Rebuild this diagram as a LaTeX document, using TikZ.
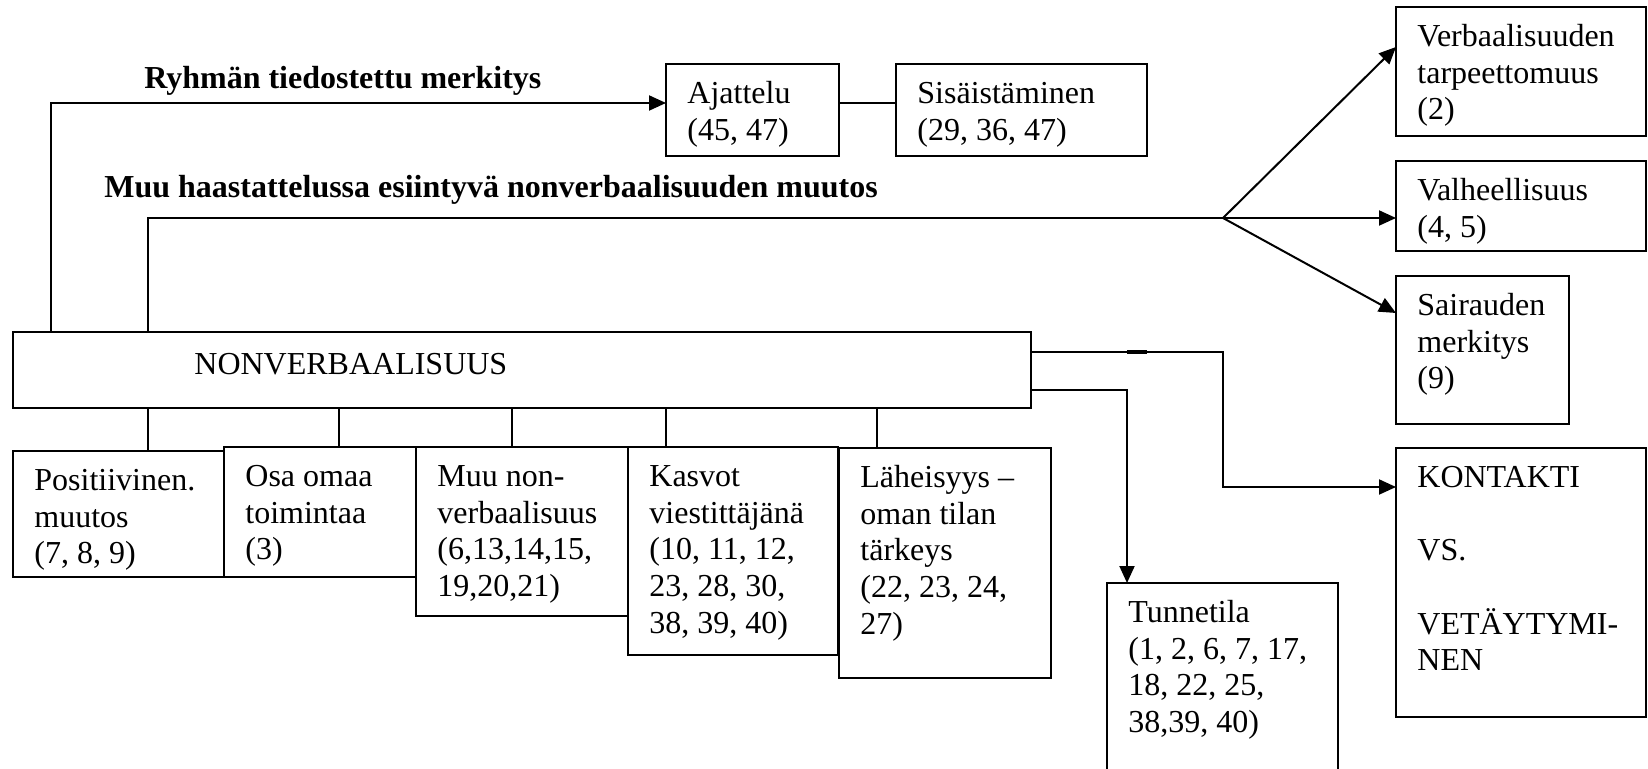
\documentclass[tikz,border=0pt]{standalone}
\usepackage{fontspec}
\setmainfont{Liberation Serif}
\usetikzlibrary{arrows.meta,calc}

\tikzset{
  frame/.style={draw, line width=1.2pt, inner sep=0pt, outer sep=0pt, anchor=north west},
  txt/.style={anchor=base west, inner sep=0pt, align=left, font=\fontsize{16pt}{18.35pt}\selectfont},
  blocktxt/.style={txt, anchor=north west},
  head/.style={txt, font=\fontsize{16pt}{18.35pt}\selectfont\bfseries},
  link/.style={line width=1pt},
  arr/.style={link, -{Triangle[length=8.5pt,width=7.5pt]}},
}

% box with its label: first baseline 39 units below the top edge, 21 units in;
% the 14pt strut fixes the top of the first line, 28 units above its baseline
\newcommand\mybox[6]{%
  \node[frame, minimum width={(#4-#2)*0.5pt}, minimum height={(#5-#3)*0.5pt}] (#1) at (#2,#3) {};
  \node[blocktxt] (#1-text) at (#2+21,#3+11) {\rule{0pt}{14pt}#6};
}

\begin{document}
\begin{tikzpicture}[x=0.5pt, y=-0.5pt]
\useasboundingbox (0,0) rectangle (1648,769);
\clip (0,0) rectangle (1648,769);

% headings
\node[head] (ryhma) at (144,89) {Ryhmän tiedostettu merkitys};
\node[head] (muutos) at (104,198) {Muu haastattelussa esiintyvä nonverbaalisuuden muutos};

% main box
\node[frame, minimum width={(1031-13)*0.5pt}, minimum height={(408-332)*0.5pt}] (nonv) at (13,332) {};
\node[txt] (nonv-text) at (194,375) {NONVERBAALISUUS};

% upper boxes
\mybox{ajattelu}{666}{64}{839}{156}{Ajattelu\\(45, 47)}
\mybox{sisa}{896}{64}{1147}{156}{Sisäistäminen\\(29, 36, 47)}

% right column
\mybox{verb}{1396}{7}{1646}{136}{Verbaalisuuden\\tarpeettomuus\\(2)}
\mybox{valhe}{1396}{161}{1646}{251}{Valheellisuus\\(4, 5)}
\mybox{sairaus}{1396}{276}{1569}{424}{Sairauden\\merkitys\\(9)}
\mybox{kontakti}{1396}{448}{1646}{717}{KONTAKTI\\[18.35pt]VS.\\[18.35pt]VETÄYTYMI-\\NEN}
\mybox{tunne}{1107}{583}{1338}{800}{Tunnetila\\(1, 2, 6, 7, 17,\\18, 22, 25,\\38,39, 40)}

% lower row
\mybox{posit}{13}{451}{224}{577}{Positiivinen.\\muutos\\(7, 8, 9)}
\mybox{osa}{224}{447}{416}{577}{Osa omaa\\toimintaa\\(3)}
\mybox{muunon}{416}{447}{628}{616}{Muu non-\\verbaalisuus\\(6,13,14,15,\\19,20,21)}
\mybox{kasvot}{628}{447}{838}{655}{Kasvot\\viestittäjänä\\(10, 11, 12,\\23, 28, 30,\\38, 39, 40)}
\mybox{laheis}{839}{448}{1051}{678}{Läheisyys –\\oman tilan\\tärkeys\\(22, 23, 24,\\27)}

% connectors
\coordinate (up1) at (51,103);
\draw[arr] (nonv.north -| up1) -- (up1) -- (ajattelu.west |- up1);
\draw[link] (ajattelu.east |- up1) -- (sisa.west |- up1);

\coordinate (up2) at (148,218);
\coordinate (fork) at (1223,218);
\draw[link] (nonv.north -| up2) -- (up2) -- (fork);
\draw[arr] (fork) -- ($(verb.north west)+(0,40)$);
\draw[arr] (fork) -- (valhe.west |- fork);
\draw[arr] (fork) -- ($(sairaus.north west)+(0,37)$);

\coordinate (k1) at (1223,352);
\coordinate (k2) at (1223,487);
\draw[arr] (nonv.east |- k1) -- (k1) -- (k2) -- (kontakti.west |- k2);
\draw[line width=1.8pt] ($(k1)+(-96,0)$) -- ($(k1)+(-76,0)$);

\coordinate (t1) at (1127,390);
\draw[arr] (nonv.east |- t1) -- (t1) -- (tunne.north -| t1);

\foreach \nm/\x in {posit/148, osa/339, muunon/512, kasvot/666, laheis/877} {
  \coordinate (tick) at (\x,0);
  \draw[link] (nonv.south -| tick) -- (\nm.north -| tick);
}
\end{tikzpicture}
\end{document}
